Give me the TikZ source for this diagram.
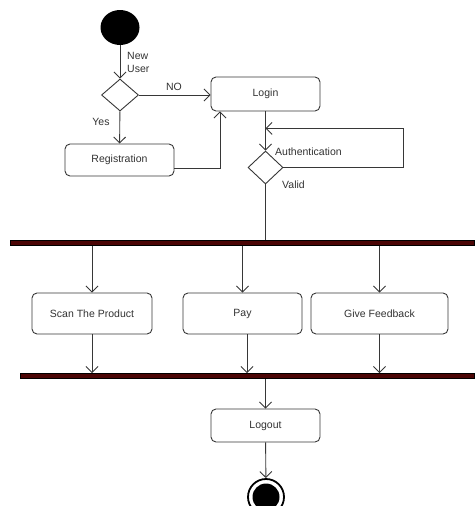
\documentclass[tikz,border=0pt]{standalone}
\usepackage{fontspec}
\setmainfont{Liberation Sans}
\usetikzlibrary{arrows.meta,shapes.geometric}
\definecolor{lc}{RGB}{55,55,55}
\definecolor{tc}{RGB}{50,50,50}
\definecolor{barc}{RGB}{75,5,5}
\begin{document}
\begin{tikzpicture}[x=1pt,y=-1pt,
  line/.style={draw=lc, line width=0.9pt},
  arr/.style={line, -{Straight Barb[length=6pt,width=12pt,line width=0.9pt]}},
  act/.style={draw=lc, line width=0.9pt, rounded corners=5pt, inner sep=0pt,
    text=tc, font=\fontsize{10.5}{13}\selectfont},
  dec/.style={diamond, draw=lc, line width=0.9pt, inner sep=0pt, fill=white},
  bar/.style={draw=black, fill=barc, line width=0.8pt, inner sep=0pt, minimum height=5pt},
  lbl/.style={text=tc, font=\fontsize{10.5}{13}\selectfont, inner sep=0pt}]
\useasboundingbox (0,0) rectangle (474,506);
% nodes
\node[ellipse, fill=black, minimum width=39pt, minimum height=35pt, inner sep=0pt] (start) at (120,27.5) {};
\node[dec, minimum width=37pt, minimum height=32pt] (d1) at (120,95) {};
\node[act, minimum width=109pt, minimum height=32pt] (reg) at (119.5,160) {Registration};
\node[act, minimum width=109pt, minimum height=34pt] (login) at (265.5,94) {Login};
\node[dec, minimum width=35pt, minimum height=33pt] (d2) at (265.5,167.5) {};
\node[bar, minimum width=464pt] (bar1) at (242,243) {};
\node[act, minimum width=120pt, minimum height=41pt] (scan) at (92,313.5) {Scan The Product};
\node[act, minimum width=119pt, minimum height=41pt] (pay) at (242.5,313.5) {Pay};
\node[act, minimum width=137pt, minimum height=41pt] (feed) at (379.5,313.5) {Give Feedback};
\node[bar, minimum width=454pt] (bar2) at (247,376) {};
\node[act, minimum width=109pt, minimum height=33pt] (logout) at (265.5,425.5) {Logout};
\node[circle, draw=black, line width=1.8pt, fill=white, minimum size=36pt, inner sep=0pt] (end) at (266,497) {};
\node[circle, fill=black, minimum size=27pt, inner sep=0pt] (endin) at (end) {};
% labels
\node[lbl, align=left, anchor=west] (newuser) at (127,62) {New\\User};
\node[lbl] (no) at (174,87) {NO};
\node[lbl] (yes) at (101,122) {Yes};
\node[lbl, anchor=west] (auth) at (275,152) {Authentication};
\node[lbl] (valid) at (293.5,184.5) {Valid};
\coordinate (lp) at ([yshift=-17pt]login.south);
% connectors
\draw[arr] (start) -- (d1);
\draw[arr] (d1.east) -- (d1.east -| login.west);
\draw[arr] (d1) -- (reg);
\draw[arr] ([yshift=-8pt]reg.east) -| ([xshift=-45.5pt]login.south);
\draw[arr] (login) -- (d2);
\draw[arr] (d2.east) -- ++(119.5,0) |- (lp);
\draw[line] (d2.south) -- (d2.south |- bar1.north);
\draw[arr] (scan.north |- bar1.south) -- (scan.north);
\draw[arr] (pay.north |- bar1.south) -- (pay.north);
\draw[arr] (feed.north |- bar1.south) -- (feed.north);
\draw[arr] (scan.south) -- (scan.south |- bar2.north);
\draw[arr] ([xshift=4.5pt]pay.south) -- ([xshift=4.5pt]pay.south |- bar2.north);
\draw[arr] (feed.south) -- (feed.south |- bar2.north);
\draw[arr] (logout.north |- bar2.south) -- (logout.north);
\draw[arr] (logout) -- (end);
\end{tikzpicture}
\end{document}
